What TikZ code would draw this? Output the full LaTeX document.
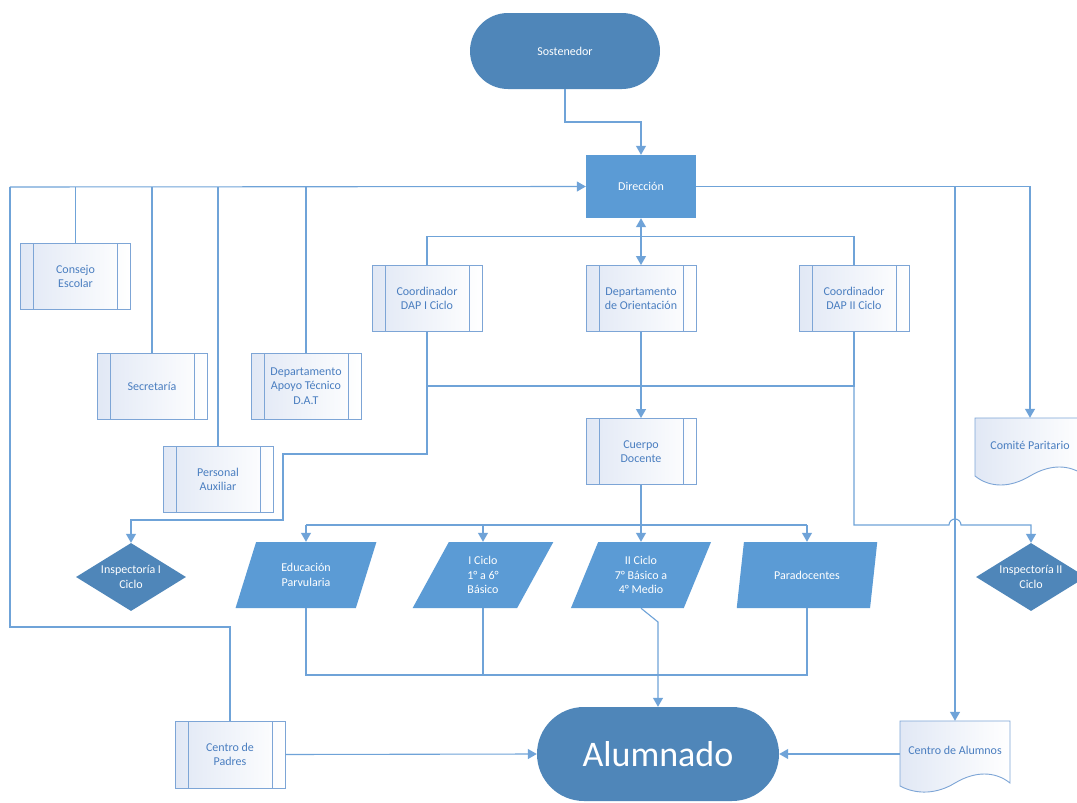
\documentclass[tikz,border=0pt]{standalone}
\usepackage{fontspec}
\setmainfont{Carlito}
\usetikzlibrary{shapes.geometric,shapes.misc,arrows.meta}

\definecolor{conn}{HTML}{6FA3D8}
\definecolor{boxline}{HTML}{7DA5D6}
\definecolor{boxtext}{HTML}{4A7EC0}
\definecolor{subfill}{HTML}{E1E8F5}
\definecolor{midblue}{HTML}{5B9BD5}
\definecolor{darkblue}{HTML}{4F86B9}

\tikzset{
	every node/.style = {font = \fontsize{12}{14.5}\selectfont, align = center},
	line/.style = {draw = conn, line width = 1.1pt},
	term/.style = {rounded rectangle, fill = darkblue, text = white, inner sep = 0pt},
	proc/.style = {rectangle, fill = midblue, text = white, minimum width = 110pt, minimum height = 63pt},
	iobox/.style = {trapezium, trapezium left angle = 66, trapezium right angle = 114, trapezium stretches = true,
		fill = midblue, text = white, minimum width = 141pt, minimum height = 66pt, inner sep = 0pt},
	decide/.style = {diamond, shape aspect = 1.6, fill = darkblue, text = white, minimum width = 110pt, minimum height = 68pt, inner sep = 0pt},
	sub/.style = {rectangle, draw = boxline, line width = 0.9pt, left color = subfill, right color = white,
		text = boxtext, minimum width = 110pt, minimum height = 66pt, inner sep = 1pt,
		path picture = {\draw[boxline, line width = 0.9pt]
			([xshift = 13pt]path picture bounding box.north west) -- ([xshift = 13pt]path picture bounding box.south west)
			([xshift = -13pt]path picture bounding box.north east) -- ([xshift = -13pt]path picture bounding box.south east);}},
	docline/.style = {draw = boxline, line width = 0.9pt, left color = subfill, right color = white},
	doc/.style = {text = boxtext, minimum width = 110pt, inner sep = 0pt}
}

\begin{document}
\begin{tikzpicture}[x = 1pt, y = -1pt, > = {Triangle[width = 10pt, length = 9pt]}]
	\fill[white] (0, 0) rectangle (1077, 803);
	\useasboundingbox (0, 0) rectangle (1077, 803);

	\draw[docline] (975, 418) -- (1085, 418) -- (1085, 476) .. controls (1070, 464) and (1050, 464) .. (1030, 476)
		.. controls (1010, 488) and (990, 488) .. (975, 476) -- cycle;
	\draw[docline] (900, 721) -- (1010, 721) -- (1010, 783) .. controls (995, 771) and (975, 771) .. (955, 783)
		.. controls (937, 794) and (917, 795) .. (900, 786) -- cycle;

	\node[term, minimum width = 190pt, minimum height = 76pt] (sost) at (565, 51) {Sostenedor};
	\node[proc] (dir) at (641, 186.5) {Dirección};

	\node[sub] (consejo) at (75.5, 276.5) {Consejo\\Escolar};
	\node[sub] (secr) at (152, 386) {Secretaría};
	\node[sub] (dat) at (306, 386) {Departamento\\Apoyo Técnico\\D.A.T};
	\node[sub] (pers) at (218, 479.5) {Personal\\Auxiliar};

	\node[sub] (coord1) at (427, 298.5) {Coordinador\\DAP I Ciclo};
	\node[sub] (orient) at (641, 298.5) {Departamento\\de Orientación};
	\node[sub] (coord2) at (854, 298.5) {Coordinador\\DAP II Ciclo};
	\node[sub] (cuerpo) at (641, 451.5) {Cuerpo\\Docente};

	\node[decide] (insp1) at (131, 577) {Inspectoría I\\Ciclo};
	\node[iobox] (edu) at (306, 575) {Educación\\Parvularia};
	\node[iobox] (ciclo1) at (483, 575) {I Ciclo\\1° a 6°\\Básico};
	\node[iobox] (ciclo2) at (641, 575) {II Ciclo\\7° Básico a\\4° Medio};
	\node[iobox] (para) at (807, 575) {Paradocentes};
	\node[decide] (insp2) at (1031, 577) {Inspectoría II\\Ciclo};

	\node[doc, minimum height = 54pt] (comite) at (1030, 445) {Comité Paritario};
	\node[doc, minimum height = 58pt] (calum) at (955, 750) {Centro de Alumnos};
	\node[sub, minimum height = 67pt] (padres) at (230, 754.5) {Centro de\\Padres};
	\node[term, minimum width = 242pt, minimum height = 94pt, font = \fontsize{36}{40}\selectfont] (alum) at (658, 754) {Alumnado};

	\coordinate (s1) at (641, 122);
	\coordinate (lbus) at (10, 187);
	\coordinate (pbend) at (10, 627);
	\coordinate (cbar) at (641, 386);
	\coordinate (k1) at (283, 454);
	\coordinate (k2) at (131, 520);
	\coordinate (dbus) at (641, 525);
	\coordinate (abus) at (658, 675);
	\coordinate (ck) at (658, 622);

	\draw[line, ->] (sost.south) |- (s1) -- (dir.north);
	\draw[line, ->] (lbus) -- (dir.west);
	\foreach \n in {consejo, secr, pers, dat}
	\draw[line] (\n.north) -- (\n.north |- dir.west);
	\draw[line] (lbus) -- (pbend) -| (padres.north);
	\draw[line, ->] (dir.east) -| (comite.north);
	\draw[line, ->] (calum.north |- dir.east) -- (calum.north);

	\draw[line, <->] (dir.south) -- (orient.north);
	\draw[line] (coord1.north) -- ++(0, -29) -| (coord2.north);
	\draw[line] (coord1.south) |- (cbar) -| (coord2.south);
	\draw[line, ->] (orient.south) -- (cuerpo.north);
	\draw[line, ->] (coord1.south) |- (k1) |- (k2) -- (insp1.north);

	\draw[line, ->] (cuerpo.south) -- (ciclo2.center |- ciclo2.north);
	\draw[line] (edu.center |- dbus) -- (para.center |- dbus);
	\foreach \n in {edu, ciclo1, para}
	\draw[line, ->] (\n.center |- dbus) -- (\n.center |- \n.north);
	\draw[line, ->] (coord2.south) |- ([xshift = -6pt]calum.north |- dbus) arc (180:360:6) -| (insp2.north);

	\draw[line] (edu.center |- edu.south) |- (abus) -| (para.center |- para.south);
	\draw[line] (ciclo1.center |- ciclo1.south) -- (ciclo1.center |- abus);
	\draw[line, ->] (ciclo2.center |- ciclo2.south) -- (ck) -- (alum.north);
	\draw[line, ->] (padres.east) -- (alum.west);
	\draw[line, ->] (alum.east -| calum.west) -- (alum.east);
\end{tikzpicture}
\end{document}
